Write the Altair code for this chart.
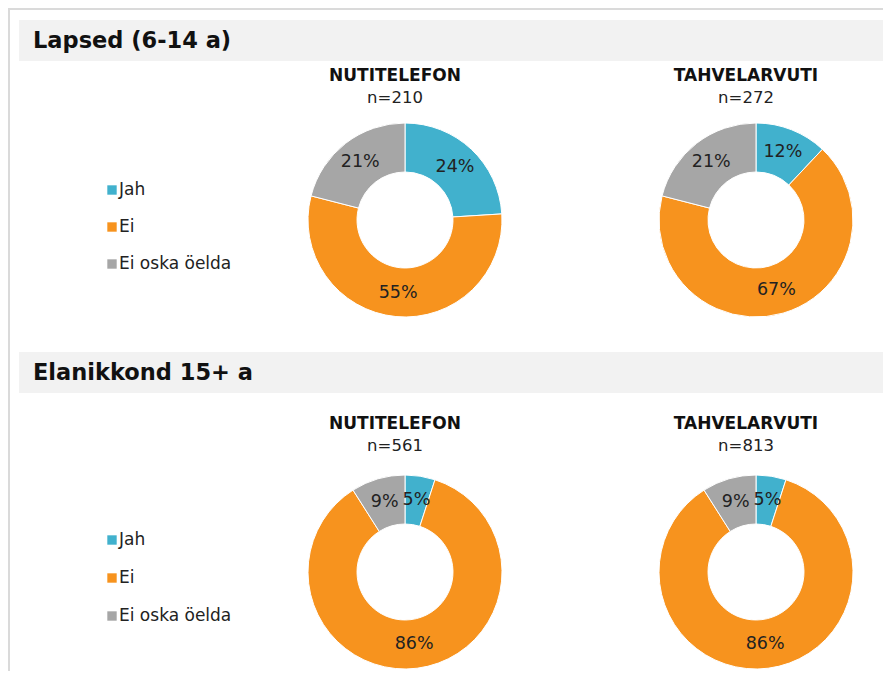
import altair as alt
import pandas as pd

# ---- data ----
categories = ["Jah", "Ei", "Ei oska öelda"]
colors = ["#41b1cd", "#f7931e", "#a6a6a6"]

sections = ["Lapsed (6-14 a)", "Elanikkond 15+ a"]
devices = ["NUTITELEFON", "TAHVELARVUTI"]
n_values = [[210, 272], [561, 813]]
# percentages per section -> device -> category (Jah, Ei, Ei oska öelda)
shares = [
    [[24, 55, 21], [12, 67, 21]],
    [[5, 86, 9], [5, 86, 9]],
]

# ---- layout (pixels in chart space) ----
W, H = 875, 663
section_top = [12, 344]
donut_cx = [397, 748]
donut_cy = [212, 564]
title_y = [68, 416]
legend_y = [[182, 219, 256], [532, 570, 608]]
R_OUT, R_IN, R_LAB = 97, 48, 73

FONT = "DejaVu Sans"
color_scale = alt.Scale(domain=categories, range=colors)

layers = []

# frame lines
frame = pd.DataFrame({"d": [0]})
layers.append(
    alt.Chart(frame).mark_rule(color="#dadada", strokeWidth=2).encode(
        x=alt.value(0), x2=alt.value(W), y=alt.value(1)
    )
)
layers.append(
    alt.Chart(frame).mark_rule(color="#dadada", strokeWidth=2).encode(
        x=alt.value(1), y=alt.value(1), y2=alt.value(H)
    )
)

for si, sec in enumerate(sections):
    top = section_top[si]
    # header band
    layers.append(
        alt.Chart(frame).mark_rect(color="#f2f2f2").encode(
            x=alt.value(11), x2=alt.value(W), y=alt.value(top), y2=alt.value(top + 41)
        )
    )
    layers.append(
        alt.Chart(pd.DataFrame({"t": [sec]})).mark_text(
            font=FONT, fontSize=22.5, fontWeight="bold", align="left",
            baseline="middle", color="#111111"
        ).encode(text="t:N", x=alt.value(25), y=alt.value(top + 21))
    )
    # legend (one item per category)
    for ci, cat in enumerate(categories):
        item = pd.DataFrame({"cat": [cat]})
        layers.append(
            alt.Chart(item).mark_square(size=88, opacity=1).encode(
                x=alt.value(104), y=alt.value(legend_y[si][ci]),
                color=alt.Color("cat:N", scale=color_scale, legend=None),
            )
        )
        layers.append(
            alt.Chart(item).mark_text(
                font=FONT, fontSize=17, align="left", baseline="middle", color="#222222"
            ).encode(x=alt.value(111), y=alt.value(legend_y[si][ci]), text="cat:N")
        )
    for di, dev in enumerate(devices):
        cx, cy = donut_cx[di], donut_cy[si]
        df = pd.DataFrame({
            "cat": categories,
            "value": shares[si][di],
            "ord": [0, 1, 2],
        })
        df["label"] = df["value"].astype(str) + "%"
        base = alt.Chart(df).encode(
            theta=alt.Theta("value:Q", stack=True, scale=alt.Scale(domain=[0, 100])),
            order=alt.Order("ord:Q"),
            x=alt.value(cx), y=alt.value(cy),
        )
        layers.append(
            base.mark_arc(innerRadius=R_IN, outerRadius=R_OUT, stroke="white",
                          strokeWidth=1).encode(
                color=alt.Color("cat:N", scale=color_scale, legend=None)
            )
        )
        layers.append(
            base.mark_text(radius=R_LAB, font=FONT, fontSize=17.5, color="#222222").encode(
                text="label:N"
            )
        )
        # titles
        tdf = pd.DataFrame({"t": [dev], "n": [f"n={n_values[si][di]}"]})
        layers.append(
            alt.Chart(tdf).mark_text(font=FONT, fontSize=17, fontWeight="bold",
                                     color="#111111", baseline="middle").encode(
                text="t:N", x=alt.value(cx - 10), y=alt.value(title_y[si])
            )
        )
        layers.append(
            alt.Chart(tdf).mark_text(font=FONT, fontSize=16.5, color="#222222",
                                     baseline="middle").encode(
                text="n:N", x=alt.value(cx - 10), y=alt.value(title_y[si] + 22)
            )
        )

chart = alt.layer(*layers).properties(
    width=W, height=H, padding=0, autosize=alt.AutoSizeParams(type="none")
).configure_view(stroke=None)

chart.save("out.html", embed_options={"renderer": "svg", "actions": False})
